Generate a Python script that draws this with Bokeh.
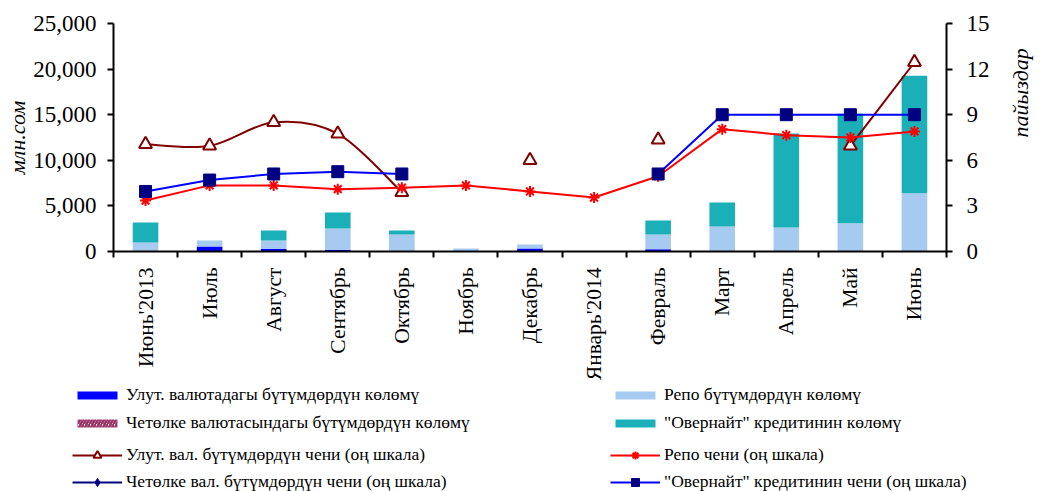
import math
from bokeh.plotting import figure
from bokeh.layouts import column
from bokeh.models import (Range1d, LinearAxis, FixedTicker, NumeralTickFormatter,
                          Legend, LegendItem, ColumnDataSource)
from bokeh.embed import file_html
from bokeh.resources import INLINE

nan = float("nan")

months = ["Июнь'2013", "Июль", "Август", "Сентябрь", "Октябрь", "Ноябрь", "Декабрь",
          "Январь'2014", "Февраль", "Март", "Апрель", "Май", "Июнь"]

# volumes, mln som (left axis)
nat_vol = [0, 550, 300, 180, 0, 0, 320, 0, 250, 0, 0, 0, 0]
for_vol = [0, 0, 0, 0, 0, 0, 0, 0, 0, 0, 0, 0, 0]
repo_vol = [1000, 650, 900, 2340, 1860, 330, 450, 0, 1610, 2740, 2630, 3100, 6400]
over_vol = [2180, 0, 1100, 1760, 440, 0, 0, 0, 1540, 2630, 10310, 12000, 12860]

# rates, % (right axis)
nat_rate = [7.05, 6.95, 8.5, 7.75, 3.9, nan, 6.0, nan, 7.35, nan, nan, 6.95, 12.45]
for_rate = [nan, nan, nan, nan, nan, nan, nan, nan, nan, nan, nan, nan, nan]
repo_rate = [3.35, 4.35, 4.35, 4.1, 4.2, 4.35, 3.95, 3.55, 4.95, 8.05, 7.65, 7.5, 7.9]
over_rate = [3.95, 4.7, 5.1, 5.25, 5.1, nan, nan, nan, 5.1, 9.0, 9.0, 9.0, 9.0]

left_ticks = [0, 5000, 10000, 15000, 20000, 25000]
right_ticks = [0, 3, 6, 9, 12, 15]

labels_left = ["Улут. валютадагы бүтүмдөрдүн көлөмү",
               "Четөлке валютасындагы бүтүмдөрдүн көлөмү",
               "Улут. вал. бүтүмдөрдүн чени (оң шкала)",
               "Четөлке вал. бүтүмдөрдүн чени (оң шкала)"]
labels_right = ["Репо бүтүмдөрдүн көлөмү",
                "\"Овернайт\" кредитинин көлөмү",
                "Репо чени (оң шкала)",
                "\"Овернайт\" кредитинин чени (оң шкала)"]

FONT = "Liberation Serif"
C_NAT = "#0000FF"
C_FOR = "#993366"
C_REPO = "#A6CAF0"
C_OVER = "#1BAFB7"
C_NATR = "#800000"
C_REPOR = "#FF0000"
C_NAVY = "#000080"
C_OVERL = "#0000FF"

W = 1048
MAIN_H = 384
LEG_H = 107

xs = [i + 0.5 for i in range(len(months))]
src = ColumnDataSource(dict(x=xs, nat=nat_vol, fore=for_vol, repo=repo_vol, over=over_vol,
                            natr=nat_rate, forr=for_rate, repor=repo_rate, overr=over_rate))


def smooth_segments(x, y):
    """Bezier pieces (Excel-like smoothed line) through consecutive valid points."""
    ok = [not math.isnan(v) for v in y]
    seg = dict(x0=[], y0=[], x1=[], y1=[], cx0=[], cy0=[], cx1=[], cy1=[])
    n = len(y)
    for i in range(n - 1):
        if not (ok[i] and ok[i + 1]):
            continue
        a = i - 1 if i > 0 and ok[i - 1] else i
        b = i + 2 if i + 2 < n and ok[i + 2] else i + 1
        seg["x0"].append(x[i]); seg["y0"].append(y[i])
        seg["x1"].append(x[i + 1]); seg["y1"].append(y[i + 1])
        seg["cx0"].append(x[i] + (x[i + 1] - x[a]) / 6)
        seg["cy0"].append(y[i] + (y[i + 1] - y[a]) / 6)
        seg["cx1"].append(x[i + 1] - (x[b] - x[i]) / 6)
        seg["cy1"].append(y[i + 1] - (y[b] - y[i]) / 6)
    return ColumnDataSource(seg)


p = figure(width=W, height=MAIN_H, x_range=Range1d(0, len(months)), y_range=Range1d(0, 25000),
           output_backend="svg", toolbar_location=None,
           min_border_left=113, min_border_right=101, min_border_top=23,
           min_border_bottom=MAIN_H - 251)
p.frame_align = False
p.extra_y_ranges = {"rate": Range1d(0, 15)}
p.grid.visible = False
p.outline_line_color = None


def draw(fig, s, smooth_nat):
    b = fig.vbar_stack(["nat", "fore", "repo", "over"], x="x", width=0.4, source=s,
                       fill_color=[C_NAT, "white", C_REPO, C_OVER], line_color=None,
                       hatch_pattern=[" ", "/", " ", " "], hatch_color=C_FOR,
                       hatch_weight=2.5, hatch_scale=6)
    yr = dict(y_range_name="rate")
    r = {}
    if smooth_nat:
        nat_line = fig.bezier(x0="x0", y0="y0", x1="x1", y1="y1", cx0="cx0", cy0="cy0",
                              cx1="cx1", cy1="cy1", source=smooth_segments(xs, nat_rate),
                              line_color=C_NATR, line_width=2, **yr)
    else:
        nat_line = fig.line("x", "natr", source=s, line_color=C_NATR, line_width=2, **yr)
    r["nat"] = [nat_line,
                fig.scatter("x", "natr", source=s, marker="triangle", size=13,
                            fill_color="white", line_color=C_NATR, line_width=2, **yr)]
    r["for"] = [fig.line("x", "forr", source=s, line_color=C_NAVY, line_width=2, **yr),
                fig.scatter("x", "forr", source=s, marker="diamond", size=13,
                            fill_color=C_NAVY, line_color=C_NAVY, **yr)]
    r["repo"] = [fig.line("x", "repor", source=s, line_color=C_REPOR, line_width=2, **yr),
                 fig.scatter("x", "repor", source=s, marker="asterisk", size=11,
                             line_color=C_REPOR, line_width=2, **yr)]
    r["over"] = [fig.line("x", "overr", source=s, line_color=C_OVERL, line_width=2, **yr),
                 fig.scatter("x", "overr", source=s, marker="square", size=12,
                             fill_color=C_NAVY, line_color=C_NAVY, **yr)]
    return b, r


draw(p, src, True)

# x axis
xa = p.xaxis[0]
xa.ticker = FixedTicker(ticks=xs, minor_ticks=list(range(len(months) + 1)))
xa.major_label_overrides = {x: m for x, m in zip(xs, months)}
xa.major_label_orientation = math.pi / 2
xa.major_tick_line_color = None
xa.minor_tick_line_color = "black"
xa.minor_tick_line_width = 2
xa.minor_tick_out = 6
xa.minor_tick_in = 0
xa.major_label_standoff = 10
xa.axis_line_width = 2
xa.major_label_text_font = FONT
xa.major_label_text_font_size = "21.5px"
xa.major_label_text_color = "black"

ya = p.yaxis[0]
ya.ticker = FixedTicker(ticks=left_ticks, minor_ticks=[])
ya.formatter = NumeralTickFormatter(format="0,0")
ya.axis_label = "млн.сом"

ra = LinearAxis(y_range_name="rate", ticker=FixedTicker(ticks=right_ticks, minor_ticks=[]),
                axis_label="пайыздар", axis_label_orientation=math.pi / 2)
p.add_layout(ra, "right")

for ax, st in ((ya, 11), (ra, 14)):
    ax.axis_line_width = 2
    ax.major_tick_line_width = 2
    ax.major_tick_out = 6
    ax.major_tick_in = 0
    ax.minor_tick_line_color = None
    ax.major_label_standoff = st
    ax.major_label_text_font = FONT
    ax.major_label_text_font_size = "23px"
    ax.major_label_text_color = "black"
    ax.axis_label_text_font = FONT
    ax.axis_label_text_font_style = "italic"
    ax.axis_label_text_font_size = "22px"
    ax.axis_label_text_color = "black"
    ax.axis_label_text_line_height = 0.9
ya.axis_label_standoff = 0
ra.axis_label_standoff = 28

# legend panel: separate figure below; its renderers use the same data but lie off-screen
lp = figure(width=W, height=LEG_H, x_range=Range1d(0, len(months)),
            y_range=Range1d(100000, 100001),
            output_backend="svg", toolbar_location=None, min_border=0,
            min_border_left=0, min_border_right=0, min_border_top=0, min_border_bottom=0,
            x_axis_location=None, y_axis_location=None)
lp.frame_align = False
lp.extra_y_ranges = {"rate": Range1d(1000, 1001)}
lp.outline_line_color = None
lp.grid.visible = False
lb, lr = draw(lp, src, False)


def mk_legend(items, gh, lh, sp, loc):
    lg = Legend(items=[LegendItem(label=t, renderers=r) for t, r in items],
                glyph_height=gh, label_height=lh, spacing=sp, location=loc)
    lg.glyph_width = 50
    lg.label_standoff = 4
    lg.padding = 0
    lg.margin = 0
    lg.border_line_color = None
    lg.background_fill_alpha = 0
    lg.label_text_font = FONT
    lg.label_text_font_size = "17.5px"
    lg.label_text_color = "black"
    lp.add_layout(lg, "center")
    return lg


XL, XR = 72, 610
mk_legend([(labels_left[0], [lb[0]]), (labels_left[1], [lb[1]])], 10, 20, 7, (XL, 58))
mk_legend([(labels_right[0], [lb[2]]), (labels_right[1], [lb[3]])], 10, 20, 7, (XR, 58))
mk_legend([(labels_left[2], lr["nat"]), (labels_left[3], lr["for"])], 20, 18, 6, (XL, -1))
mk_legend([(labels_right[2], lr["repo"]), (labels_right[3], lr["over"])], 20, 18, 6, (XR, -1))

page = column(p, lp, spacing=0)
open("out.html", "w").write(file_html(page, INLINE))
